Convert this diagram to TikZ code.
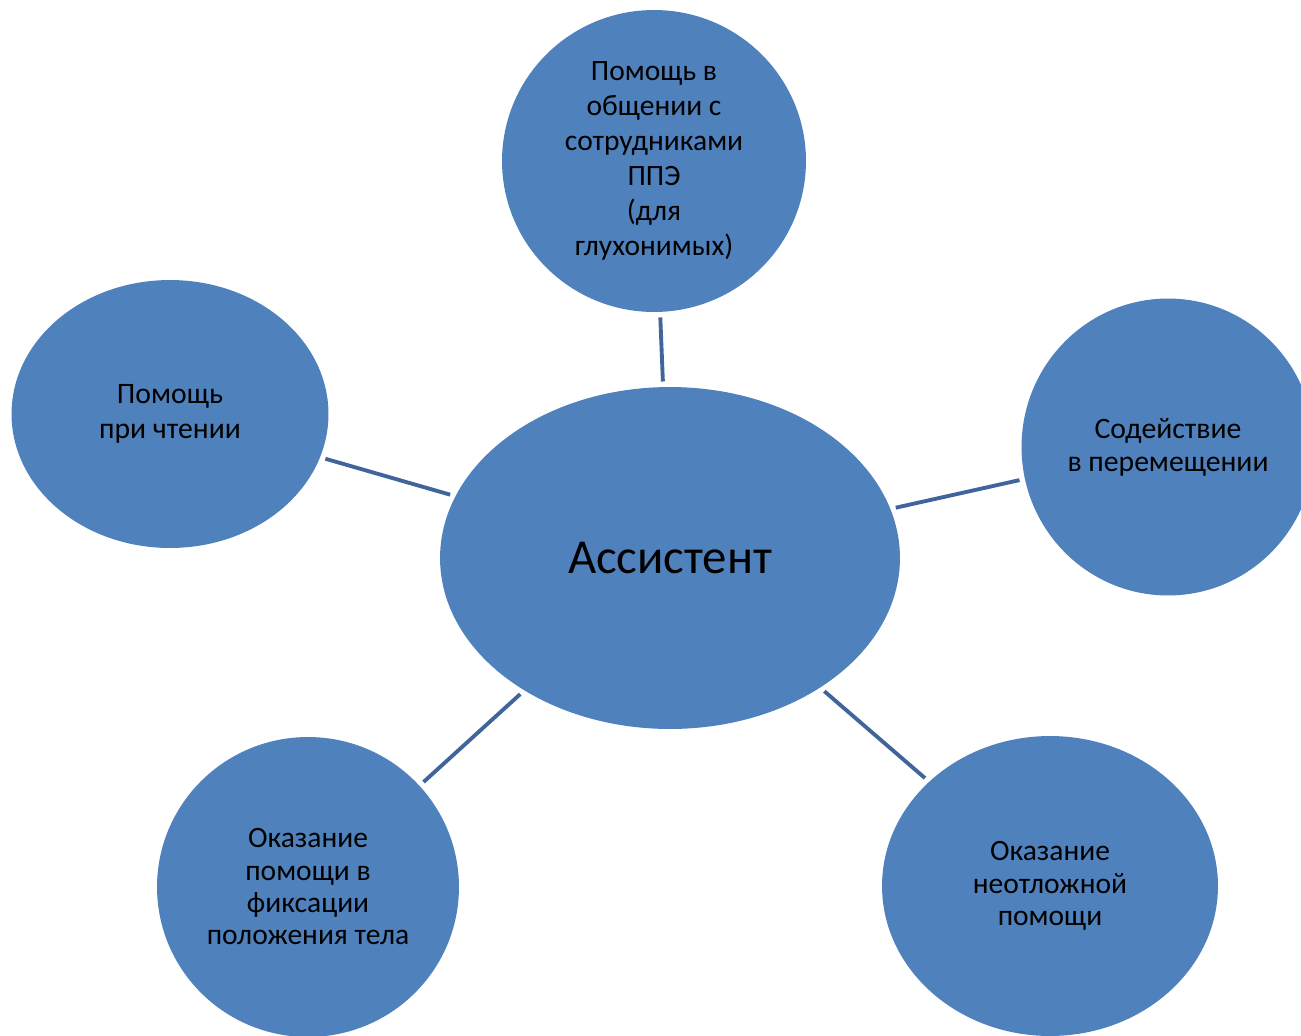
\documentclass[tikz,border=0pt]{standalone}
\usepackage{fontspec}
\setmainfont{Carlito}
\usetikzlibrary{shapes.geometric}
\definecolor{bubblefill}{HTML}{4F81BD}
\definecolor{spoke}{HTML}{41659A}
\tikzset{
  bubble/.style={ellipse,fill=bubblefill,inner sep=0pt,align=center,text=black},
  spokeline/.style={draw=spoke,line width=2.2pt,shorten <=3pt,shorten >=3pt}
}
\begin{document}
\begin{tikzpicture}[x=0.02cm,y=-0.02cm]
      \useasboundingbox (0,0) rectangle (1301,1035);
      \clip (0,0) rectangle (1301,1035);
      \node[bubble,minimum width=9.2cm,minimum height=6.84cm,font=\fontsize{27.8}{33}\selectfont]
        (hub) at (670,558) {Ассистент};
      \node[bubble,minimum width=6.08cm,minimum height=6.04cm,font=\fontsize{16.8}{20}\selectfont]
        (comm) at (654,161) {Помощь в\\общении с\\сотрудниками\\ППЭ\\(для\\глухонимых)};
      \node[bubble,minimum width=6.34cm,minimum height=5.36cm,font=\fontsize{16.9}{20.2}\selectfont]
        (read) at (170,414) {Помощь\\при чтении};
      \node[bubble,minimum width=5.86cm,minimum height=5.94cm,font=\fontsize{16.9}{18.7}\selectfont]
        (move) at (1168,447) {Содействие\\в перемещении};
      \node[bubble,minimum width=6.04cm,minimum height=6.0cm,font=\fontsize{16.8}{18.4}\selectfont]
        (fix) at (308,887) {Оказание\\помощи в\\фиксации\\положения тела};
      \node[bubble,minimum width=6.72cm,minimum height=6.0cm,font=\fontsize{16.8}{18.4}\selectfont]
        (urgent) at (1050,886) {Оказание\\неотложной\\помощи};
      % spokes
      \draw[spokeline] (hub) -- (comm);
      \draw[spokeline] (hub) -- (read);
      \draw[spokeline] (hub) -- (move);
      \draw[spokeline] (hub) -- (fix);
      \draw[spokeline] (hub) -- (urgent);
    \end{tikzpicture}
\end{document}
